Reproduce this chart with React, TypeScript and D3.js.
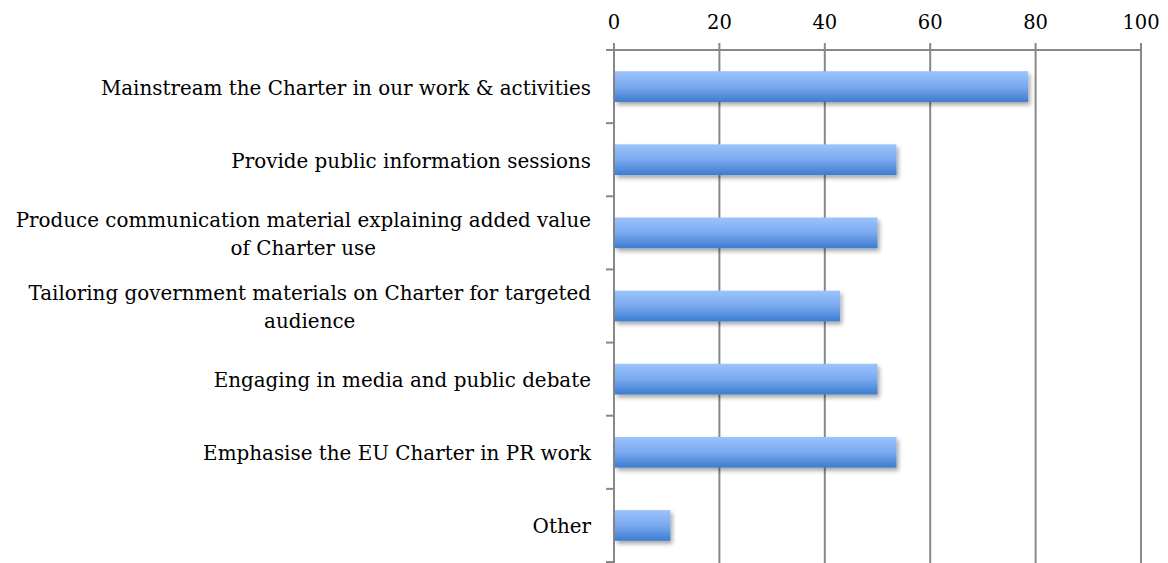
import React from "react";
import * as d3 from "d3";

const categories: string[][] = [
  ["Mainstream the Charter in our work & activities"],
  ["Provide public information sessions"],
  ["Produce communication material explaining added value", "of Charter use"],
  ["Tailoring government materials on Charter for targeted", "audience"],
  ["Engaging in media and public debate"],
  ["Emphasise the EU Charter in PR work"],
  ["Other"],
];
const values: number[] = [78.6, 53.6, 50.0, 42.9, 50.0, 53.6, 10.7];
const xTicks: number[] = [0, 20, 40, 60, 80, 100];

const W = 1168;
const H = 563;
const margin = { left: 614, right: 27, top: 50, bottom: 1 };
const FONT_NAME = "DejaVu Serif";
const FONT = "'DejaVu Serif', serif";
const LABEL_SIZE = 19.9;
const AXIS = "#888888";
const LABEL_RIGHT = 591;

function measure(text: string): number {
  if (typeof document === "undefined") return text.length * 10;
  const c = document.createElement("canvas").getContext("2d");
  if (!c) return text.length * 10;
  c.font = `${LABEL_SIZE}px '${FONT_NAME}'`;
  return c.measureText(text).width;
}

export default function App() {
  const x = d3.scaleLinear().domain([0, 100]).range([margin.left, W - margin.right]);
  const idx = categories.map((_, i) => String(i));
  const y = d3
    .scaleBand()
    .domain(idx)
    .range([margin.top, H - margin.bottom])
    .paddingInner(0.58)
    .paddingOuter(0.29);
  const step = y.step();
  const bandEdges = d3.range(categories.length + 1).map((i) => margin.top + i * step);
  return (
    <svg width={W} height={H} style={{ position: "absolute", left: 0, top: 0, background: "#fff" }}>
      <defs>
        <linearGradient id="barGrad" x1="0" y1="0" x2="0" y2="1">
          <stop offset="0" stopColor="#9cc3fc" />
          <stop offset="0.5" stopColor="#7aa9ef" />
          <stop offset="1" stopColor="#3c7ccf" />
        </linearGradient>
        <filter id="shadow" x="-5%" y="-20%" width="115%" height="160%">
          <feDropShadow dx="2" dy="3" stdDeviation="2" floodColor="#000" floodOpacity="0.35" />
        </filter>
      </defs>
      {xTicks.slice(1).map((t) => (
        <line key={"g" + t} x1={x(t)} x2={x(t)} y1={margin.top - 7} y2={H} stroke={AXIS} strokeWidth={2} />
      ))}
      <line x1={margin.left - 7} x2={x(100)} y1={margin.top} y2={margin.top} stroke={AXIS} strokeWidth={2} />
      <line x1={x(0)} x2={x(0)} y1={margin.top - 7} y2={H} stroke={AXIS} strokeWidth={2} />
      {bandEdges.map((b, i) => (
        <line key={"t" + i} x1={margin.left - 8} x2={margin.left} y1={b} y2={b} stroke={AXIS} strokeWidth={2} />
      ))}
      {xTicks.map((t) => (
        <text key={"l" + t} x={x(t)} y={29} textAnchor="middle" fontFamily={FONT} fontSize={19.5} fill="#000">
          {t}
        </text>
      ))}
      {values.map((v, i) => (
        <rect
          key={"b" + i}
          x={x(0) + 1}
          y={y(String(i))!}
          width={x(v) - x(0) - 1}
          height={y.bandwidth()}
          fill="url(#barGrad)"
          filter="url(#shadow)"
        />
      ))}
      {categories.map((lines, i) => {
        const cy = y(String(i))! + y.bandwidth() / 2;
        const lh = 28;
        const start = cy - ((lines.length - 1) * lh) / 2;
        const maxW = Math.max(...lines.map(measure));
        const cx = LABEL_RIGHT - maxW / 2;
        return (
          <text key={"c" + i} textAnchor="middle" fontFamily={FONT} fontSize={LABEL_SIZE} fill="#000">
            {lines.map((ln, j) => (
              <tspan key={j} x={cx} y={start + j * lh + 8}>
                {ln}
              </tspan>
            ))}
          </text>
        );
      })}
    </svg>
  );
}
